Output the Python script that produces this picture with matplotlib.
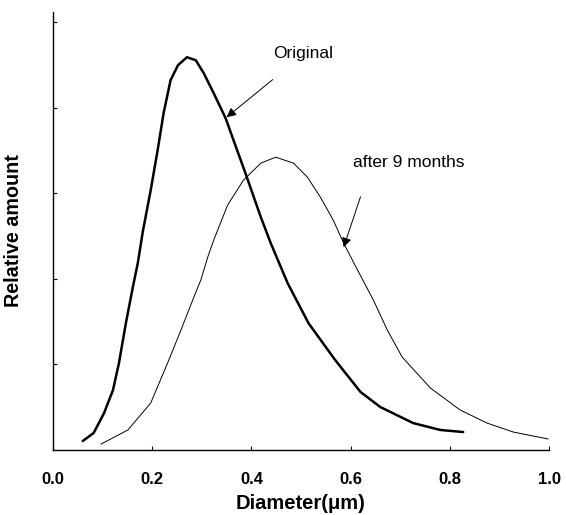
import matplotlib
matplotlib.use("Agg")
import matplotlib.pyplot as plt

# Original distribution (thick line)
orig_x = [0.060, 0.082, 0.103, 0.121, 0.133, 0.147, 0.161, 0.171, 0.181, 0.197, 0.211, 0.223, 0.237, 0.252, 0.270, 0.288, 0.304, 0.324, 0.348, 0.364, 0.388, 0.419, 0.439, 0.473, 0.515, 0.569, 0.620, 0.660, 0.726, 0.781, 0.827]
orig_y = [0.105, 0.199, 0.432, 0.701, 1.016, 1.484, 1.904, 2.185, 2.550, 3.037, 3.505, 3.937, 4.322, 4.498, 4.591, 4.556, 4.404, 4.171, 3.879, 3.621, 3.236, 2.722, 2.418, 1.951, 1.484, 1.051, 0.678, 0.502, 0.315, 0.234, 0.210]

# After 9 months (thin line)
aged_x = [0.097, 0.151, 0.197, 0.231, 0.258, 0.284, 0.298, 0.312, 0.324, 0.352, 0.384, 0.419, 0.449, 0.485, 0.513, 0.539, 0.565, 0.586, 0.614, 0.646, 0.674, 0.704, 0.761, 0.821, 0.875, 0.928, 0.998]
aged_y = [0.070, 0.234, 0.549, 1.016, 1.402, 1.787, 1.986, 2.255, 2.453, 2.862, 3.154, 3.353, 3.423, 3.353, 3.189, 2.956, 2.687, 2.418, 2.103, 1.752, 1.402, 1.086, 0.724, 0.467, 0.315, 0.210, 0.129]

x_ticks = [0.0, 0.2, 0.4, 0.6, 0.8, 1.0]
x_tick_labels = ["0.0", "0.2", "0.4", "0.6", "0.8", "1.0"]
y_ticks = [1, 2, 3, 4, 5]

plt.rcParams['font.family'] = ['Liberation Sans', 'DejaVu Sans']

fig = plt.figure(figsize=(5.66, 5.15), dpi=100)
ax = fig.add_axes([0.0936, 0.1262, 0.970 - 0.0936, 0.9767 - 0.1262])

ax.plot(orig_x, orig_y, color='black', lw=1.8, solid_joinstyle='round', solid_capstyle='round')
ax.plot(aged_x, aged_y, color='black', lw=0.7)

ax.set_xlim(0, 1.0)
ax.set_ylim(0, 5.12)
ax.set_xticks(x_ticks)
ax.set_xticklabels(x_tick_labels, fontsize=12, fontweight='bold')
ax.set_yticks(y_ticks)
ax.set_yticklabels([])
ax.tick_params(axis='both', direction='in', length=3, width=0.8)
ax.tick_params(axis='x', pad=16)

for s in ['top', 'right']:
    ax.spines[s].set_visible(False)
for s in ['left', 'bottom']:
    ax.spines[s].set_linewidth(1.0)

ax.set_xlabel("Diameter(\u03bcm)", fontsize=14.5, fontweight='bold', labelpad=5)
ax.set_ylabel("Relative amount", fontsize=14.2, fontweight='bold', labelpad=18)

arrow = dict(arrowstyle='-|>', color='black', lw=0.7, mutation_scale=14, shrinkA=0, shrinkB=0)
ax.annotate("", xy=(0.350, 3.89), xytext=(0.443, 4.33), arrowprops=arrow)
ax.text(0.443, 4.64, "Original", fontsize=12.5, ha='left', va='center')
ax.annotate("", xy=(0.586, 2.37), xytext=(0.620, 2.96), arrowprops=arrow)
ax.text(0.604, 3.36, "after 9 months", fontsize=12.5, ha='left', va='center')

fig.savefig("out.png", dpi=100)
